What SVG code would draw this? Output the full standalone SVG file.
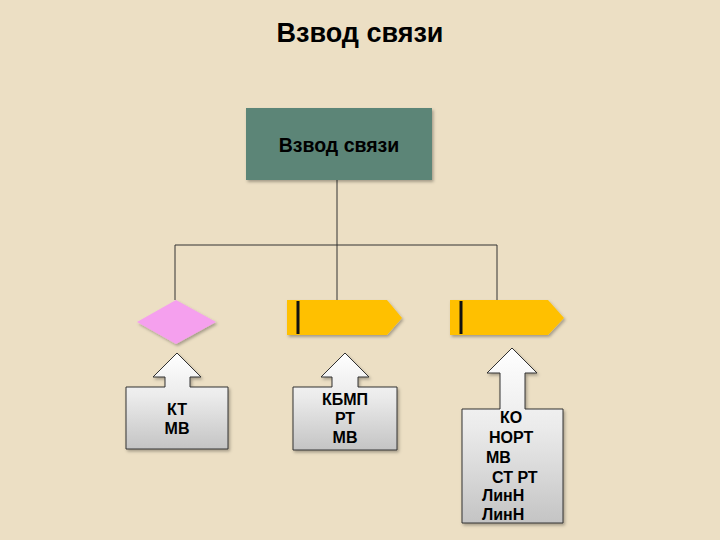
<svg xmlns="http://www.w3.org/2000/svg" width="720" height="540" viewBox="0 0 720 540">
<defs>
<linearGradient id="g" x1="0" y1="0" x2="0" y2="1">
<stop offset="0" stop-color="#ffffff"/>
<stop offset="0.45" stop-color="#ebebeb"/>
<stop offset="1" stop-color="#c4c4c4"/>
</linearGradient>
<filter id="sh" x="-10%" y="-10%" width="130%" height="130%">
<feDropShadow dx="1.5" dy="2" stdDeviation="1.5" flood-color="#000" flood-opacity="0.3"/>
</filter>
</defs>
<style>
text{font-family:"Liberation Sans",Arial,sans-serif;font-weight:bold;fill:#000}
.lbl{font-size:16px;text-anchor:middle}
.b3{font-size:16px}
.blk{fill:url(#g);stroke:#333;stroke-width:1;filter:url(#sh)}
.pent{fill:#FFC000;filter:url(#sh)}
.bar{stroke:#111;stroke-width:3}
.con{stroke:#333;stroke-width:1;fill:none}
</style>
<rect width="720" height="540" fill="#ECDFC4"/>
<text x="360" y="42" font-size="27" text-anchor="middle">Взвод связи</text>
<g id="connectors">
<path class="con" d="M337,180 V245 M175,245 H497 M175,245 V300 M337,245 V300 M497,245 V300"/>
</g>
<g id="root">
<rect x="246" y="108" width="186" height="72" fill="#5B8577" filter="url(#sh)"/>
<text x="339" y="152" font-size="19.5" text-anchor="middle">Взвод связи</text>
</g>
<g id="diamond">
<polygon points="176,300 216,322 176,344 137,322" fill="#F5A0EE" filter="url(#sh)"/>
</g>
<g id="pent1">
<polygon class="pent" points="287,300 387,300 402,318 387,335 287,335"/>
<line class="bar" x1="298" y1="301" x2="298" y2="334"/>
</g>
<g id="pent2">
<polygon class="pent" points="450,300 548,300 564,318 548,335 450,335"/>
<line class="bar" x1="461" y1="301" x2="461" y2="334"/>
</g>
<g id="block1">
<path class="blk" d="M126,387 L165,387 L165,377 L153,377 L177,353 L201,377 L190,377 L190,387 L228,387 L228,449 L126,449 Z"/>
<text class="lbl" x="177" y="415">КТ</text>
<text class="lbl" x="177" y="434">МВ</text>
</g>
<g id="block2">
<path class="blk" d="M293,387 L332,387 L332,377 L321,377 L345,353 L369,377 L358,377 L358,387 L397,387 L397,450 L293,450 Z"/>
<text class="lbl" x="345" y="405">КБМП</text>
<text class="lbl" x="345" y="424">РТ</text>
<text class="lbl" x="345" y="443">МВ</text>
</g>
<g id="block3">
<path class="blk" d="M462,409 L500,409 L500,373 L487,373 L512,348 L537,373 L525,373 L525,409 L563,409 L563,523 L462,523 Z"/>
<text class="b3" x="500" y="423">КО</text>
<text class="b3" x="489" y="443">НОРТ</text>
<text class="b3" x="486" y="463">МВ</text>
<text class="b3" x="492" y="483">СТ РТ</text>
<text class="b3" x="482" y="501">ЛинН</text>
<text class="b3" x="482" y="520">ЛинН</text>
</g>
</svg>
